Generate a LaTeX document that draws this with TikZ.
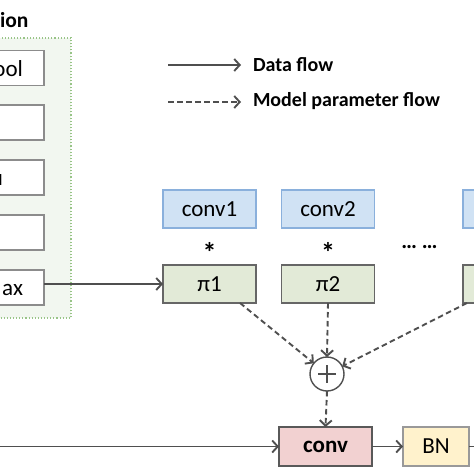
\documentclass[tikz,border=0pt]{standalone}
\usepackage{fontspec}
\setmainfont{Carlito}
\usetikzlibrary{arrows.meta,calc}
\definecolor{lineg}{HTML}{4F4F4F}
\definecolor{bluef}{HTML}{D0E2F4}
\definecolor{blued}{HTML}{8AB0DC}
\definecolor{greenf}{HTML}{E2EAD7}
\definecolor{contf}{HTML}{F2F7F0}
\definecolor{contd}{HTML}{98C487}
\definecolor{pinkf}{HTML}{F2D1D1}
\definecolor{yellf}{HTML}{FFF2CC}
\begin{document}
\begin{tikzpicture}[x=1pt,y=-1pt,
  every node/.style={inner sep=0pt,outer sep=0pt},
  opbox/.style={draw=black!45,line width=1.5pt,fill=white,minimum width=110pt,minimum height=35pt},
  convbox/.style={draw=blued,line width=1.3pt,fill=bluef,minimum width=93pt,minimum height=38pt,font=\fontsize{23}{26}\selectfont},
  pibox/.style={draw=black!60,line width=1.3pt,fill=greenf,minimum width=93pt,minimum height=38pt,font=\fontsize{23}{26}\selectfont},
  flow/.style={draw=lineg,line width=1.9pt,-{Straight Barb[length=5.5pt,width=12pt,line width=1.9pt]}},
  param/.style={flow,dash pattern=on 5.5pt off 3.5pt},
  lbl/.style={font=\fontsize{23}{26}\selectfont},
  legtext/.style={anchor=base west,font=\bfseries\fontsize{20}{24}\selectfont},
]
\useasboundingbox (0,0) rectangle (474,474);
% container
\draw[fill=contf,draw=contd,line width=1.1pt,dotted] (-20,38) rectangle (71,318);
\node[anchor=base west,font=\bfseries\fontsize{21.5}{26}\selectfont] (title) at (0,27) {ion};
% left boxes
\node[opbox] (b1) at (-11,68) {};
\node[opbox] (b2) at (-11,122.5) {};
\node[opbox] (b3) at (-11,177.5) {};
\node[opbox] (b4) at (-11,232.5) {};
\node[opbox] (b5) at (-11,287.5) {};
\node[lbl,anchor=base east] (t1) at (23,76) {ool};
\node[lbl,anchor=base east] (t3) at (3,185) {u};
\node[lbl,anchor=base east] (t5) at (23,295) {ax};
% legend
\coordinate (l1a) at (168,65);
\coordinate (l1b) at (241,65);
\coordinate (l2a) at (168,102);
\coordinate (l2b) at (241,102);
\draw[flow] (l1a) -- (l1b);
\draw[param] (l2a) -- (l2b);
\node[legtext] (d1) at (253,71) {Data flow};
\node[legtext] (d2) at (253,106) {Model parameter flow};
% conv kernels
\node[convbox] (c1) at (209.5,209) {conv1};
\node[convbox] (c2) at (328,209) {conv2};
\node[convbox] (c3) at (509.5,209) {};
\node[font=\bfseries\fontsize{28}{30}\selectfont] (s1) at (209.5,252) {*};
\node[font=\bfseries\fontsize{28}{30}\selectfont] (s2) at (328,252) {*};
\node[font=\bfseries\fontsize{22}{24}\selectfont] (dots) at (419.5,247) {… …};
\node[pibox] (p1) at (209.5,284) {π1};
\node[pibox] (p2) at (328,284) {π2};
\node[pibox] (p3) at (509.5,284) {};
% sum
\node[circle,draw=lineg,line width=1.4pt,fill=white,minimum size=34pt] (sum) at (327,374) {};
\draw[lineg,line width=1.4pt] ($(sum.center)+(-9,0)$) -- ($(sum.center)+(9,0)$);
\draw[lineg,line width=1.4pt] ($(sum.center)+(0,-9)$) -- ($(sum.center)+(0,9)$);
% conv, BN
\node[draw=black!65,line width=1.3pt,fill=pinkf,minimum width=93pt,minimum height=39pt,font=\bfseries\fontsize{23}{26}\selectfont] (conv) at (325.5,446.5) {conv};
\node[draw=black!40,line width=1.3pt,fill=yellf,minimum width=66pt,minimum height=39pt,font=\fontsize{23}{26}\selectfont] (bn) at (436,446.5) {BN};
\coordinate (in) at (-5,446.5);
\coordinate (out) at (480,446.5);
% connectors
\draw[flow] (b5.east |- p1.west) -- (p1.west);
\draw[param] ($(p1.south)+(30.5,0)$) -- (sum);
\draw[param] (p2.south) -- (sum.north);
\draw[param] ($(p3.south west)+(4,0)$) -- (sum);
\draw[param] (sum.south) -- (conv.north);
\draw[flow] (in) -- (conv.west);
\draw[flow] (conv.east) -- (bn.west);
\draw[draw=lineg,line width=1.9pt] (bn.east) -- (out);
\end{tikzpicture}
\end{document}
